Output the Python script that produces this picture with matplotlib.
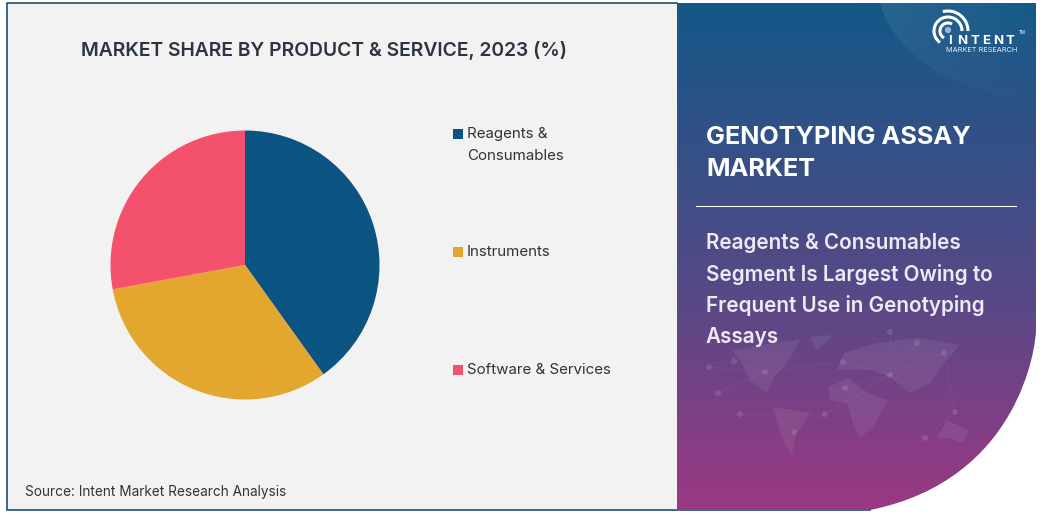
import matplotlib
matplotlib.use("Agg")
import matplotlib.pyplot as plt
import numpy as np
from matplotlib.patches import PathPatch, Rectangle, Arc, Polygon, Circle
from matplotlib.path import Path

categories = ['Reagents &\nConsumables', 'Instruments', 'Software & Services']
shares = [40.1, 32.0, 27.9]
colors = ['#0b5482', '#e3a72f', '#f4516c']
legend_y = [145, 252, 370]

plt.rcParams['font.family'] = ['Inter', 'DejaVu Sans']

fig = plt.figure(figsize=(10.43, 5.13), dpi=100, facecolor='white')
bg = fig.add_axes([0, 0, 1, 1])
bg.set_xlim(0, 1043)
bg.set_ylim(513, 0)
bg.axis('off')

# left panel, border has no right side
bg.add_patch(Rectangle((7, 3), 670, 507, facecolor='#f2f2f2', edgecolor='none'))
bg.plot([677, 7, 7, 870], [3, 3, 510, 510], color='#1c4f72', lw=1.2, zorder=1)

# right panel with gradient and curved corner
verts = [(677, 3), (1036, 3), (1036, 330), (1036, 345), (1020, 480), (870, 510), (677, 510), (677, 3)]
codes = [Path.MOVETO, Path.LINETO, Path.LINETO, Path.CURVE4, Path.CURVE4, Path.CURVE4, Path.LINETO, Path.CLOSEPOLY]
shape = PathPatch(Path(verts, codes), facecolor='none', edgecolor='none')
bg.add_patch(shape)
top = np.array([0x12, 0x58, 0x88]) / 255
mid = np.array([0x5a, 0x48, 0x86]) / 255
bot = np.array([0x9c, 0x38, 0x84]) / 255
t = np.linspace(0, 1, 256)[:, None]
grad = np.where(t < 0.6, top + (mid - top) * t / 0.6, mid + (bot - mid) * (t - 0.6) / 0.4)
im = bg.imshow(grad[:, None, :], extent=(677, 1036, 510, 3), aspect='auto', zorder=1.5)
im.set_clip_path(shape)

# lighter swoosh behind logo, fading to the lower right
sw_verts = [(880, 3), (895, 60), (960, 90), (1036, 105), (1036, 3), (880, 3)]
sw_codes = [Path.MOVETO, Path.CURVE4, Path.CURVE4, Path.CURVE4, Path.LINETO, Path.CLOSEPOLY]
sw = PathPatch(Path(sw_verts, sw_codes), facecolor='none', edgecolor='none')
bg.add_patch(sw)
fade = np.ones((64, 64, 4))
xx, yy = np.meshgrid(np.linspace(0, 1, 64), np.linspace(0, 1, 64))
fade[..., 3] = 0.09 * (1 - 0.8 * xx) * (1 - 0.6 * yy)
im2 = bg.imshow(fade, extent=(880, 1036, 105, 3), aspect='auto', zorder=2)
im2.set_clip_path(sw)
bg.set_xlim(0, 1043)
bg.set_ylim(513, 0)

# faint world map
land = [
    [(732, 350), (774, 343), (800, 340), (787, 363), (774, 377), (767, 393), (749, 380), (742, 363)],
    [(810, 337), (834, 335), (817, 350)],
    [(772, 407), (810, 413), (795, 437), (792, 457), (783, 440)],
    [(828, 387), (848, 378), (867, 393), (888, 400), (873, 427), (860, 438), (853, 423), (847, 403), (830, 400)],
    [(844, 353), (877, 343), (917, 338), (960, 345), (944, 363), (930, 383), (910, 393), (890, 377), (874, 370), (837, 370)],
    [(937, 438), (947, 420), (968, 430), (963, 443), (948, 438)],
]
for p in land:
    bg.add_patch(Polygon(p, facecolor='white', alpha=0.07, edgecolor='none', zorder=2))

nodes = [(718, 393), (709, 367), (734, 361), (740, 414), (765, 372), (825, 414), (794, 432), (843, 362),
         (890, 375), (845, 388), (944, 353), (917, 343), (890, 332), (955, 412), (925, 438)]
links = [(0, 4), (1, 4), (2, 4), (3, 5), (5, 6), (5, 8), (7, 8), (8, 9), (8, 10), (8, 11), (10, 13), (13, 14), (4, 7), (9, 14), (12, 8)]
for a, b in links:
    bg.plot([nodes[a][0], nodes[b][0]], [nodes[a][1], nodes[b][1]], color='white', alpha=0.05, lw=0.6, zorder=2)
for n in nodes:
    bg.add_patch(Circle(n, 3, facecolor='white', alpha=0.11, edgecolor='none', zorder=2))

# titles
bg.text(324, 50, 'MARKET SHARE BY PRODUCT & SERVICE, 2023 (%)', fontsize=13.9, fontweight='semibold',
        color='#2b3440', ha='center', va='center', zorder=5)
bg.text(25, 492, 'Source: Intent Market Research Analysis', fontsize=9.8, color='#333333', va='center', zorder=5)

# legend
for c, name, y in zip(colors, categories, legend_y):
    first = y - 11 if '\n' in name else y
    bg.add_patch(Rectangle((453, first - 5), 10, 10, facecolor=c, zorder=5))
    for i, line in enumerate(name.split('\n')):
        bg.text(467, first + i * 22, line, fontsize=10.9, color='#333333', va='center', zorder=5)

# right text
bg.text(706, 137, 'GENOTYPING ASSAY', fontsize=18.2, fontweight='bold', color='white', va='center', zorder=5)
bg.text(706, 169, 'MARKET', fontsize=18.2, fontweight='bold', color='white', va='center', zorder=5)
bg.plot([696, 1016], [206, 206], color='white', lw=0.8, zorder=5)
desc = ['Reagents & Consumables', 'Segment Is Largest Owing to', 'Frequent Use in Genotyping', 'Assays']
for i, line in enumerate(desc):
    bg.text(706, 243 + i * 31.2, line, fontsize=14.9, fontweight='semibold', color='#ecebf3', va='center', zorder=5)

# logo, y axis is inverted so theta runs clockwise on screen
for r, a1, a2 in [(8, 120, 300), (14, 125, 360), (20, 255, 360)]:
    bg.add_patch(Arc((948, 31), r * 2, r * 2, theta1=a1, theta2=a2, color='white', lw=2.2, zorder=6))
bg.add_patch(Circle((948, 30), 3.2, facecolor='white', alpha=0.55, zorder=6))
for ch, x in zip('INTENT', [950, 962, 975, 986, 998, 1010]):
    bg.text(x, 40.5, ch, fontsize=9.6, fontweight='bold', color='white', ha='center', va='center', zorder=7)
bg.text(981.5, 50, 'MARKET RESEARCH', fontsize=5.3, color='#e8eef5', ha='center', va='center', zorder=7)
bg.text(1022, 33, 'TM', fontsize=3.2, color='white', ha='center', va='center', zorder=7)

# pie: centre 245,265 radius 134.5 in pixels
ax = fig.add_axes([(245 - 134.5) / 1043, 1 - (265 + 134.5) / 513, 269 / 1043, 269 / 513])
ax.pie(shares, colors=colors, startangle=90, counterclock=False, radius=1.0)
ax.set_xlim(-1, 1)
ax.set_ylim(-1, 1)
ax.set_aspect('equal')
ax.patch.set_alpha(0)

fig.savefig('out.png', dpi=100)
